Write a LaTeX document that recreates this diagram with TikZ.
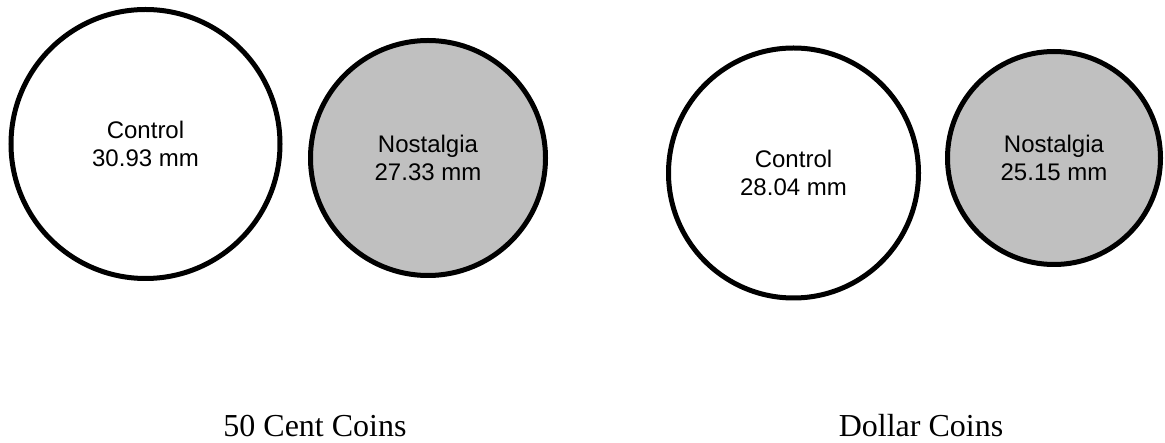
\documentclass[tikz,border=0pt]{standalone}
\usepackage{fontspec}
\setmainfont{Liberation Serif}
\newfontfamily\helv{Liberation Sans}
\definecolor{coingray}{RGB}{192,192,192}
\begin{document}
\begin{tikzpicture}[x=1pt,y=-1pt,
  coin/.style={circle,draw=black,line width=5pt,align=center,inner sep=0pt,
    font=\helv\fontsize{24}{28}\selectfont},
  ctrl/.style={coin,fill=white},
  nost/.style={coin,fill=coingray},
  lbl/.style={font=\fontsize{32}{38}\selectfont,anchor=base,inner sep=0pt}]
\useasboundingbox (0,0) rectangle (1165,443);
\node[ctrl,minimum size=269pt] (c1) at (145.5,144) {Control\\30.93 mm};
\node[nost,minimum size=235pt] (n1) at (428,158) {Nostalgia\\27.33 mm};
\node[ctrl,minimum size=250pt] (c2) at (793.5,173) {Control\\28.04 mm};
\node[nost,minimum size=213pt] (n2) at (1054,158) {Nostalgia\\25.15 mm};
\node[lbl] (l1) at (315,437) {50 Cent Coins};
\node[lbl] (l2) at (921,437) {Dollar Coins};
\end{tikzpicture}
\end{document}
